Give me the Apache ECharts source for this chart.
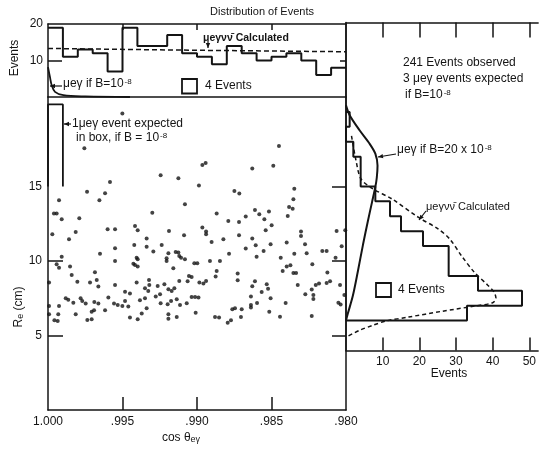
<!DOCTYPE html>
<html><head><meta charset="utf-8">
<script src="https://cdn.jsdelivr.net/npm/echarts@6/dist/echarts.min.js"></script>
<style>html,body{margin:0;padding:0;background:#fff}#c{width:539px;height:450px}</style>
</head><body><div id="c"></div>
<script>
// ---------- DATA ----------
const cosTickValues = [0.995, 0.990, 0.985];
const reTickValues = [5, 10, 15];
const eventTickValues = [10, 20, 30, 40, 50];

// top histogram: events per 0.001 bin of cos(theta), starting at 1.000 going down
const topBinCounts = [19, 11, 13, 12, 7, 19, 14, 14, 17, 12, 11, 9, 14, 12, 10, 11, 12, 10, 6, 8];
const topBinWidth = 0.001;

// mu e gamma nu nubar calculated (top panel)
const topCalcCos = [1.000, 0.990, 0.980];
const topCalcEvents = [13.3, 12.8, 12.4];

// mu e gamma if B = 1e-8 (top panel)
const topMegCos = [1.0000, 0.99987, 0.99975, 0.99953, 0.99897, 0.9975, 0.9945];
const topMegEvents = [8.2, 5.5, 3.2, 1.4, 0.5, 0.15, 0.0];

// right histogram: events per 1 cm bin of R_e
const reBinEdges = [6, 7, 8, 9, 10, 11, 12, 13, 14, 15, 16, 17, 18, 19, 20];
const reBinCounts = [33, 48, 36, 28, 28, 21, 15, 12, 8, 4, 4, 2, 0, 1];

// mu e gamma if B = 20e-8 (right panel)
const rightMegEvents = [0, 1.0, 3.7, 6.4, 8.0, 8.6, 8.4, 8.0, 7.1, 5.9, 4.6, 3.2, 1.9, 0.5, 0];
const rightMegRe = [20.45, 19.78, 18.77, 17.88, 17.2, 16.4, 15.6, 14.96, 13.95, 12.6, 11.05, 9.26, 7.7, 6.47, 6.0];

// mu e gamma nu nubar calculated (right panel)
const rightCalcEvents = [1.5, 2.8, 4.1, 7.3, 12.6, 19.8, 25.2, 28.3, 31.5, 35.0, 38.6, 40.4, 40.9, 40.0, 35.0, 26.1, 17.1, 10.8, 7.3, 3.7, 0.1];
const rightCalcRe = [18.4, 16.65, 15.5, 14.85, 14.15, 12.92, 12.14, 11.47, 10.35, 9.24, 8.39, 7.9, 7.5, 7.2, 6.97, 6.62, 6.24, 5.97, 5.68, 5.35, 4.9];

// box where 1 mu e gamma event is expected
const boxCos = [1.000, 0.999];
const boxRe = [15, 20.5];

// observed events: [cos theta_e gamma, R_e (cm)]
const eventPoints = [
[0.99501,19.9],[0.99756,17.56],[0.99584,15.3],[0.99738,14.65],[0.99617,14.54],[0.99655,14.07],[0.99926,14.07],
[0.9996,13.18],[0.99942,13.18],[0.99908,12.8],[0.9979,12.86],[0.996,12.13],[0.9955,12.13],[0.99814,11.95],
[0.99971,11.79],[0.99859,11.45],[0.99416,12.35],[0.99398,12.06],[0.99338,11.5],[0.9955,10.85],[0.99421,11.07],
[0.99338,10.96],[0.99651,10.49],[0.99908,10.29],[0.99405,10.22],[0.99398,10.11],[0.99942,9.78],[0.99926,9.55],
[0.9955,10.0],[0.99427,9.82],[0.99416,9.73],[0.99398,9.62],[0.99852,9.62],[0.99685,9.24],[0.99841,9.06],
[0.99993,8.55],[0.99803,8.61],[0.99718,8.55],[0.99673,8.72],[0.99662,8.28],[0.9955,8.39],[0.99405,8.55],
[0.99349,8.17],[0.99483,7.94],[0.9945,7.81],[0.99881,7.49],[0.99864,7.4],[0.9983,7.2],[0.99781,7.49],
[0.9977,7.32],[0.99747,7.14],[0.99689,7.25],[0.99662,7.14],[0.99595,7.54],[0.99557,7.14],[0.99532,7.05],
[0.99501,6.98],[0.99483,7.32],[0.99461,6.94],[0.99383,7.36],[0.99349,7.49],[0.99993,6.98],[0.99926,6.98],
[0.99993,6.42],[0.99814,6.42],[0.99931,6.42],[0.99957,6.02],[0.99935,5.97],[0.99707,6.6],[0.99691,6.69],
[0.99736,6.04],[0.99707,6.09],[0.99617,6.69],[0.9945,6.2],[0.99398,6.09],[0.99371,6.47],[0.99338,6.82],
[0.98964,16.44],[0.98942,16.58],[0.99244,15.75],[0.99125,15.55],[0.98987,15.06],[0.98749,14.7],[0.98716,14.52],
[0.99081,13.8],[0.993,13.24],[0.98868,13.18],[0.98673,12.98],[0.9879,12.68],[0.98718,12.62],[0.98964,12.24],
[0.98939,11.97],[0.98939,11.79],[0.99188,12.01],[0.99087,11.72],[0.98823,11.45],[0.98718,11.72],[0.99237,11.07],
[0.98902,11.27],[0.99293,10.63],[0.99192,10.51],[0.99143,10.6],[0.99125,10.56],[0.99119,10.34],[0.99107,10.22],
[0.99081,10.11],[0.99204,10.18],[0.99204,10.0],[0.99018,9.84],[0.98998,9.84],[0.98913,10.0],[0.98846,10.0],
[0.98785,10.49],[0.98673,10.83],[0.99159,9.51],[0.98868,9.33],[0.98875,8.95],[0.98727,9.15],[0.98727,8.7],
[0.99322,8.72],[0.9932,8.39],[0.99264,8.32],[0.99219,8.43],[0.99192,8.1],[0.9917,7.99],[0.99152,8.17],
[0.99119,8.66],[0.99054,8.99],[0.99036,8.93],[0.99063,8.64],[0.98984,8.55],[0.98957,8.48],[0.98939,8.66],
[0.99327,7.99],[0.99277,7.61],[0.99248,7.76],[0.99244,7.16],[0.99197,7.09],[0.99174,7.32],[0.99136,7.43],
[0.99114,7.05],[0.99069,7.16],[0.99036,7.58],[0.99013,7.58],[0.9899,7.54],[0.99192,6.42],[0.99192,6.13],
[0.99136,6.24],[0.99009,6.53],[0.98879,6.24],[0.98852,6.2],[0.98794,5.86],[0.98772,6.02],[0.98763,6.76],
[0.98745,6.82],[0.987,6.76],[0.98705,6.24],
[0.9845,17.72],[0.98629,16.2],[0.98488,16.38],[0.98347,14.85],[0.98353,14.14],[0.98382,13.62],[0.98358,13.51],
[0.98391,13.02],[0.98611,13.42],[0.98582,13.13],[0.98517,13.31],[0.98548,12.8],[0.98499,12.39],[0.98539,12.06],
[0.98629,11.5],[0.98606,11.05],[0.98506,11.12],[0.98553,10.67],[0.986,10.29],[0.98398,11.23],[0.98302,11.97],
[0.98302,11.68],[0.98275,11.12],[0.98264,10.51],[0.98347,10.49],[0.98438,10.22],[0.98159,10.67],[0.9813,10.67],
[0.9807,10.22],[0.98063,12.01],[0.98029,10.98],[0.98005,12.06],[0.98226,9.78],[0.98398,9.62],[0.98373,9.71],
[0.98425,9.33],[0.98353,9.19],[0.98335,9.19],[0.98125,9.22],[0.98611,8.64],[0.98629,8.3],[0.98532,8.43],
[0.98523,8.14],[0.98566,7.92],[0.98324,8.39],[0.98203,8.39],[0.98181,8.48],[0.9813,8.52],[0.98107,8.64],
[0.9804,8.39],[0.9823,8.08],[0.98219,7.72],[0.98219,7.45],[0.98273,7.76],[0.98638,7.61],[0.98638,7.05],
[0.98638,6.87],[0.98597,7.18],[0.98506,7.49],[0.98405,7.18],[0.98011,7.72],[0.98051,7.2],[0.98036,7.07],
[0.98515,6.6],[0.98443,6.26],[0.9823,6.31]
];

// ---------- DERIVED (built from the arrays above) ----------
const topHistPts = [];
topBinCounts.forEach((c, i) => {
  const hi = +(1 - i * topBinWidth).toFixed(4), lo = +(hi - topBinWidth).toFixed(4);
  topHistPts.push([hi, c], [lo, c]);
});
const rightHistPts = [[0, reBinEdges[0]]];
reBinCounts.forEach((c, i) => { rightHistPts.push([c, reBinEdges[i]], [c, reBinEdges[i + 1]]); });
rightHistPts.push([0, reBinEdges[reBinEdges.length - 1]]);
const zip = (a, b) => a.map((v, i) => [v, b[i]]);
const boxPts = [[boxCos[0], boxRe[0]], [boxCos[1], boxRe[0]], [boxCos[1], boxRe[1]], [boxCos[0], boxRe[1]]];

// ---------- CHART ----------
const INK = '#141414';
const FONT = 'Liberation Sans, Arial, sans-serif';
const chart = echarts.init(document.getElementById('c'), null, {renderer: 'canvas'});

const baseAxis = (extra) => Object.assign({
  type: 'value', splitLine: {show: false},
  axisLine: {show: true, onZero: false, lineStyle: {color: INK, width: 1.5}},
  axisTick: {show: false}, axisLabel: {show: false}
}, extra);
const ticks = (vals, len) => ({show: true, inside: true, length: len, customValues: vals, lineStyle: {color: INK, width: 1.5}});

const rich = {
  sup: {fontSize: 8, verticalAlign: 'top', fontFamily: FONT, fill: INK, padding: [0, 0, 0, 1]},
  sub: {fontSize: 9, verticalAlign: 'bottom', fontFamily: FONT, fill: INK}
};
function txt(x, y, text, size, extra) {
  return Object.assign({type: 'text', x: x, y: y, z: 50,
    style: Object.assign({text: text, fontSize: size || 12, fontFamily: FONT, fill: INK,
      align: 'left', verticalAlign: 'middle', rich: rich}, (extra || {}).style || {})},
    extra ? {rotation: extra.rotation || 0} : {});
}
function arrow(x1, y1, x2, y2) {
  const a = Math.atan2(y2 - y1, x2 - x1), L = 5, W = 2.2;
  const p1 = [x2 - L * Math.cos(a) + W * Math.sin(a), y2 - L * Math.sin(a) - W * Math.cos(a)];
  const p2 = [x2 - L * Math.cos(a) - W * Math.sin(a), y2 - L * Math.sin(a) + W * Math.cos(a)];
  return [
    {type: 'line', z: 50, shape: {x1: x1, y1: y1, x2: x2, y2: y2}, style: {stroke: INK, lineWidth: 1.2}},
    {type: 'polygon', z: 50, shape: {points: [[x2, y2], p1, p2]}, style: {fill: INK}}
  ];
}

const lineS = (xi, yi, data, extra) => Object.assign({
  type: 'line', xAxisIndex: xi, yAxisIndex: yi, data: data, symbol: 'none', silent: true,
  lineStyle: {color: INK, width: 2}, z: 5
}, extra);

const option = {
  animation: false,
  backgroundColor: '#fff',
  textStyle: {fontFamily: FONT},
  grid: [
    {left: 48, top: 24, width: 298, height: 73},
    {left: 48, top: 97, width: 298, height: 313},
    {left: 346, top: 22.5, width: 195, height: 327.9}
  ],
  xAxis: [
    baseAxis({gridIndex: 0, min: 0.98, max: 1.0, inverse: true, position: 'bottom'}),
    baseAxis({gridIndex: 0, min: 0.98, max: 1.0, inverse: true, position: 'top', axisTick: ticks(cosTickValues, 6)}),
    baseAxis({gridIndex: 1, min: 0.98, max: 1.0, inverse: true, position: 'bottom', interval: 0.005,
      axisTick: ticks(cosTickValues, 13),
      axisLabel: {show: true, color: INK, fontSize: 12, fontFamily: FONT, margin: 6,
        customValues: [1.0, 0.995, 0.99, 0.985, 0.98],
        formatter: v => { const s = (+v).toFixed(3); return s.charAt(0) === '1' ? s : s.slice(1); }}}),
    baseAxis({gridIndex: 2, min: 0, max: 52.4, position: 'bottom', interval: 10,
      axisTick: ticks(eventTickValues, 13),
      axisLabel: {show: true, color: INK, fontSize: 12, fontFamily: FONT, margin: 5,
        customValues: eventTickValues, showMaxLabel: true,
        formatter: v => (v > 0 && Math.abs(v % 10) < 1e-6) ? String(Math.round(v)) : ''}}),
    baseAxis({gridIndex: 2, min: 0, max: 52.4, position: 'top', interval: 10, axisTick: ticks(eventTickValues, 15)})
  ],
  yAxis: [
    baseAxis({gridIndex: 0, min: 0, max: 20, interval: 10, position: 'left',
      axisTick: ticks([10], 14),
      axisLabel: {show: true, color: INK, fontSize: 12, fontFamily: FONT, margin: 5, customValues: [10, 20],
        formatter: v => (v === 10 || v === 20) ? String(v) : ''}}),
    baseAxis({gridIndex: 0, min: 0, max: 20, position: 'right', axisTick: ticks([10], 6)}),
    baseAxis({gridIndex: 1, min: 0, max: 21, interval: 5, position: 'left',
      axisTick: ticks([5, 10], 15),
      axisLabel: {show: true, color: INK, fontSize: 12, fontFamily: FONT, margin: 6, customValues: reTickValues,
        formatter: v => (v === 5 || v === 10 || v === 15) ? String(v) : ''}}),
    baseAxis({gridIndex: 1, min: 0, max: 21, position: 'right'}),
    baseAxis({gridIndex: 2, min: 4, max: 26, position: 'left'}),
    baseAxis({gridIndex: 2, min: 4, max: 26, position: 'right', axisLine: {show: false},
      axisTick: ticks(reTickValues, 14)})
  ],
  series: [
    lineS(0, 0, topHistPts, {lineStyle: {color: INK, width: 2}}),
    lineS(0, 0, zip(topCalcCos, topCalcEvents), {lineStyle: {color: INK, width: 1.5, type: [5, 3]}}),
    lineS(0, 0, zip(topMegCos, topMegEvents), {smooth: 0.35, lineStyle: {color: INK, width: 1.8}}),
    {type: 'scatter', xAxisIndex: 2, yAxisIndex: 2, data: eventPoints, symbol: 'circle', symbolSize: 4,
      itemStyle: {color: INK}, silent: true, z: 6},
    lineS(2, 2, boxPts.concat([boxPts[0]]).slice(1), {lineStyle: {color: INK, width: 1.8}}),
    lineS(3, 4, rightHistPts, {lineStyle: {color: INK, width: 2}}),
    lineS(3, 4, zip(rightMegEvents, rightMegRe), {smooth: 0.3, lineStyle: {color: INK, width: 2}}),
    lineS(3, 4, zip(rightCalcEvents, rightCalcRe), {smooth: 0.3, lineStyle: {color: INK, width: 1.5, type: [4, 3]}})
  ],
  graphic: [
    txt(262, 12, 'Distribution of Events', 11, {style: {align: 'center'}}),
    txt(15, 58, 'Events', 12, {rotation: Math.PI / 2, style: {align: 'center'}}),
    txt(19, 307, 'R{sub|e} (cm)', 12, {rotation: Math.PI / 2, style: {align: 'center'}}),
    txt(181, 438, 'cos θ{sub|eγ}', 12, {style: {align: 'center'}}),
    txt(449, 374, 'Events', 12, {style: {align: 'center'}}),
    // top panel annotations
    txt(203, 38, 'μeγνν\u0304 Calculated', 10.5, {style: {fontWeight: 'bold'}}),
    ...arrow(208, 41, 208, 48),
    txt(63, 84, 'μeγ if B=10{sup|-8}', 12),
    ...arrow(62, 86, 50, 86),
    {type: 'rect', z: 50, shape: {x: 182, y: 79, width: 15, height: 14.5}, style: {fill: 'none', stroke: INK, lineWidth: 1.8}},
    txt(205, 86, '4 Events', 12),
    // box annotation
    ...arrow(71, 124, 64, 124),
    txt(72, 124, '1μeγ event expected', 12),
    txt(76, 138, 'in box, if B = 10{sup|-8}', 12),
    // right panel annotations
    txt(403, 63, '241 Events observed', 12),
    txt(403, 79, '3 μeγ events expected', 12),
    txt(405, 95, 'if B=10{sup|-8}', 12),
    txt(397, 150, 'μeγ if B=20 x 10{sup|-8}', 12),
    ...arrow(396, 154, 378, 157),
    txt(426, 207, 'μeγνν\u0304 Calculated', 11),
    ...arrow(426, 211, 419, 220),
    {type: 'rect', z: 50, shape: {x: 376, y: 283, width: 15, height: 14}, style: {fill: 'none', stroke: INK, lineWidth: 1.8}},
    txt(398, 290, '4 Events', 12)
  ]
};
chart.setOption(option);
</script>
</body></html>
